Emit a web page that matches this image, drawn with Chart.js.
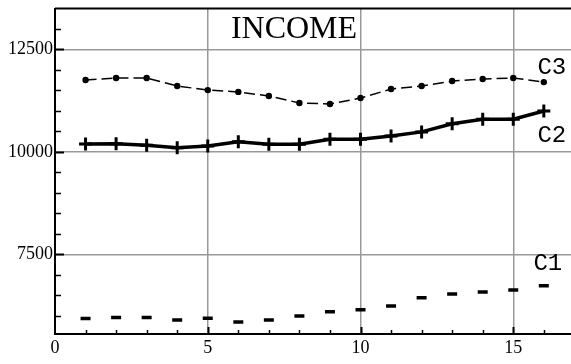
<!DOCTYPE html>
<html><head><meta charset="utf-8">
<script src="https://cdn.jsdelivr.net/npm/chart.js@4/dist/chart.umd.min.js"></script>
<style>html,body{margin:0;padding:0;background:#fff;overflow:hidden}canvas{display:block}</style>
</head><body>
<canvas id="c" width="571" height="364"></canvas>
<script>
// ---- data ----
const periods = [1,2,3,4,5,6,7,8,9,10,11,12,13,14,15,16];
const c1Values = [5940,5960,5960,5900,5945,5850,5900,6000,6100,6150,6245,6445,6535,6585,6635,6735];
const c2Values = [10195,10200,10165,10105,10145,10250,10190,10190,10310,10310,10390,10490,10690,10800,10800,11000];
const c3Values = [11755,11805,11805,11610,11510,11465,11365,11195,11170,11315,11535,11610,11730,11780,11805,11705];
const seriesNames = ['C1','C2','C3'];
const xTickValues = [0,5,10,15];
const yTickValues = [7500,10000,12500];
const chartTitle = 'INCOME';

const toPts = vals => periods.map((p,i)=>({x:p,y:vals[i]}));

const serif = '"Liberation Serif", "Times New Roman", serif';
const mono = '"Liberation Mono", "Courier New", monospace';

const labelOffsets = {C1:[4,-22], C2:[8,25], C3:[8,-14]};

const framePlugin = {
  id:'frame',
  afterDraw(chart){
    const {ctx, chartArea:a, scales} = chart;
    const xs = scales.x, ys = scales.y;
    ctx.save();
    ctx.strokeStyle = '#000';
    ctx.lineWidth = 2;
    ctx.beginPath(); ctx.moveTo(a.left, a.top); ctx.lineTo(a.right, a.top); ctx.stroke();
    for (let v = 6000; v <= 13000; v += 500) {
      const y = Math.round(ys.getPixelForValue(v)) + 0.5;
      const major = v % 2500 === 0;
      ctx.lineWidth = major ? 2 : 1.5;
      ctx.beginPath(); ctx.moveTo(a.left, y); ctx.lineTo(a.left + (major ? 9 : 6), y); ctx.stroke();
    }
    for (let v = 1; v <= 16; v++) {
      const x = Math.round(xs.getPixelForValue(v)) + 0.5;
      const major = v % 5 === 0;
      ctx.lineWidth = major ? 2 : 1.5;
      ctx.beginPath(); ctx.moveTo(x, a.bottom); ctx.lineTo(x, a.bottom - (major ? 7 : 4)); ctx.stroke();
    }
    ctx.fillStyle = '#000';
    ctx.font = '32px ' + serif;
    ctx.textAlign = 'center'; ctx.textBaseline = 'middle';
    ctx.fillText(chartTitle, 294, 30);
    ctx.font = '24px ' + mono;
    chart.data.datasets.forEach((ds, i) => {
      const meta = chart.getDatasetMeta(i);
      const pt = meta.data[meta.data.length - 1];
      const off = labelOffsets[ds.label];
      ctx.fillText(ds.label, pt.x + off[0], pt.y + off[1]);
    });
    ctx.restore();
  }
};

new Chart(document.getElementById('c'), {
  type:'line',
  data:{
    datasets:[
      {label:seriesNames[0], data:toPts(c1Values), showLine:false, pointStyle:'line',
       pointRadius:5, pointHoverRadius:5, pointBorderWidth:3.5, borderColor:'#000', backgroundColor:'#000'},
      {label:seriesNames[1], data:toPts(c2Values), borderColor:'#000', borderWidth:3.5, tension:0,
       pointStyle:'cross', pointRadius:6.5, pointHoverRadius:6.5, pointBorderWidth:3, pointBorderColor:'#000'},
      {label:seriesNames[2], data:toPts(c3Values), borderColor:'#000', borderWidth:1.5, borderDash:[11,5], tension:0,
       pointStyle:'circle', pointRadius:3.2, pointHoverRadius:3.2, pointBorderWidth:0, pointBackgroundColor:'#000'}
    ]
  },
  options:{
    responsive:false, animation:false,
    layout:{autoPadding:false, padding:{top:8.5, right:0, left:0, bottom:0}},
    plugins:{legend:{display:false}, tooltip:{enabled:false}, title:{display:false}},
    scales:{
      x:{type:'linear', min:0, max:16.89,
        afterBuildTicks(s){ s.ticks = xTickValues.map(v=>({value:v})); },
        afterFit(s){ s.height = 30; s.paddingLeft = 0; s.paddingRight = 0; },
        grid:{color:'#999', lineWidth:1.5, drawTicks:false},
        border:{color:'#000', width:2},
        ticks:{color:'#000', font:{family:serif, size:18}, padding:3, maxRotation:0, autoSkip:false,
          callback:v=>String(v)}
      },
      y:{type:'linear', min:5560, max:13500,
        afterBuildTicks(s){ s.ticks = yTickValues.map(v=>({value:v})); },
        afterFit(s){ s.width = 55; s.paddingTop = 0; s.paddingBottom = 0; },
        grid:{color:'#999', lineWidth:1.5, drawTicks:false},
        border:{color:'#000', width:2},
        ticks:{color:'#000', font:{family:serif, size:18}, padding:2, callback:v=>String(v)}
      }
    }
  },
  plugins:[framePlugin]
});
</script>
</body></html>
